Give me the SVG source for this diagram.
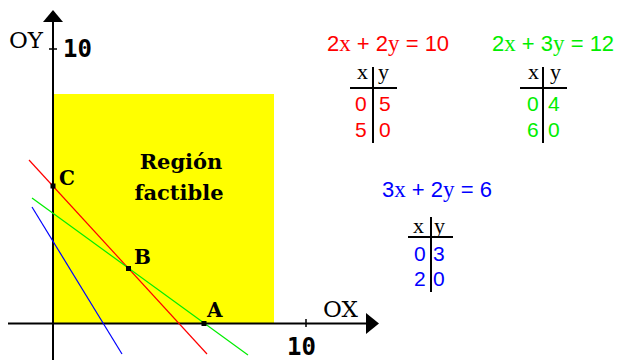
<svg xmlns="http://www.w3.org/2000/svg" width="618" height="360" viewBox="0 0 618 360">
<defs>
<style>
.axis{stroke:#000;stroke-width:2;fill:none}
.tick{stroke:#000;stroke-width:1.5}
.num{font-family:"DejaVu Sans Mono",monospace;font-weight:bold;font-size:24px;fill:#000}
.axlbl{font-family:"DejaVu Serif",serif;font-size:23px;fill:#000}
.pt{font-family:"DejaVu Serif",serif;font-weight:bold;font-size:20px;fill:#000}
.region{font-family:"DejaVu Serif",serif;font-weight:bold;font-size:21px;fill:#000;text-anchor:middle}
.eq{font-family:"Liberation Sans",Arial,sans-serif;font-size:22px}
.var{font-family:"Liberation Serif","Times New Roman",serif;font-size:23px}
.hdr{font-family:"Liberation Serif","Times New Roman",serif;font-size:22px;fill:#000}
.dig{font-family:"Liberation Sans",Arial,sans-serif;font-size:21px}
.tl{stroke:#000;stroke-width:2}
.dot{fill:#000}
</style>
</defs>
<rect width="618" height="360" fill="#fff"/>
<rect id="feasible-region" x="53" y="94" width="221" height="229.5" fill="#ffff00"/>
<g id="axes">
<line class="axis" x1="53" y1="20" x2="53" y2="360"/>
<polygon points="53,10 43,22 63,22" fill="#000"/>
<line class="axis" x1="8" y1="323.5" x2="368" y2="323.5"/>
<polygon points="379,323.5 366,313 366,334" fill="#000"/>
<line class="tick" x1="49" y1="49" x2="57" y2="49"/>
<line class="tick" x1="306" y1="319" x2="306" y2="327"/>
<text class="axlbl" x="9" y="48">OY</text>
<text class="num" x="63" y="57">10</text>
<text class="axlbl" x="323" y="317">OX</text>
<text class="num" x="287" y="355">10</text>
</g>
<g id="connectors">
<line x1="29" y1="160" x2="207" y2="354" stroke="#ff0000" stroke-width="1.2"/>
<line x1="32" y1="198" x2="248" y2="355" stroke="#00ee00" stroke-width="1.2"/>
<line x1="32" y1="207" x2="122" y2="354" stroke="#0000ff" stroke-width="1.2"/>
</g>
<g id="region-label">
<text class="region" x="181" y="169">Región</text>
<text class="region" x="179" y="200">factible</text>
</g>
<g id="point-A"><rect class="dot" x="201.5" y="321" width="5" height="5"/><text class="pt" x="207" y="317">A</text></g>
<g id="point-B"><rect class="dot" x="126" y="266" width="5" height="5"/><text class="pt" x="134" y="264">B</text></g>
<g id="point-C"><rect class="dot" x="50.5" y="183.5" width="5" height="5"/><text class="pt" x="59" y="185">C</text></g>
<g id="table-red">
<text class="eq" x="327" y="51" fill="#ff0000">2<tspan class="var">x</tspan> + 2<tspan class="var">y</tspan> = 10</text>
<text class="hdr" x="357" y="79">x</text><text class="hdr" x="378" y="79">y</text>
<line class="tl" x1="350" y1="88" x2="397" y2="88"/>
<line class="tl" x1="373" y1="67" x2="373" y2="143"/>
<text class="dig" x="355" y="111" fill="#ff0000">0</text><text class="dig" x="379" y="111" fill="#ff0000">5</text>
<text class="dig" x="355" y="137" fill="#ff0000">5</text><text class="dig" x="379" y="137" fill="#ff0000">0</text>
</g>
<g id="table-green">
<text class="eq" x="492" y="51" fill="#00ee00">2<tspan class="var">x</tspan> + 3<tspan class="var">y</tspan> = 12</text>
<text class="hdr" x="528" y="79">x</text><text class="hdr" x="550" y="79">y</text>
<line class="tl" x1="520" y1="88" x2="567" y2="88"/>
<line class="tl" x1="543" y1="67" x2="543" y2="143"/>
<text class="dig" x="527" y="111" fill="#00ee00">0</text><text class="dig" x="548" y="111" fill="#00ee00">4</text>
<text class="dig" x="527" y="137" fill="#00ee00">6</text><text class="dig" x="548" y="137" fill="#00ee00">0</text>
</g>
<g id="table-blue">
<text class="eq" x="382" y="197" fill="#0000ff">3<tspan class="var">x</tspan> + 2<tspan class="var">y</tspan> = 6</text>
<text class="hdr" x="413" y="233">x</text><text class="hdr" x="434" y="233">y</text>
<line class="tl" x1="408" y1="237" x2="453" y2="237"/>
<line class="tl" x1="431" y1="217" x2="431" y2="292"/>
<text class="dig" x="414" y="261" fill="#0000ff">0</text><text class="dig" x="433" y="261" fill="#0000ff">3</text>
<text class="dig" x="414" y="286" fill="#0000ff">2</text><text class="dig" x="433" y="286" fill="#0000ff">0</text>
</g>
</svg>
